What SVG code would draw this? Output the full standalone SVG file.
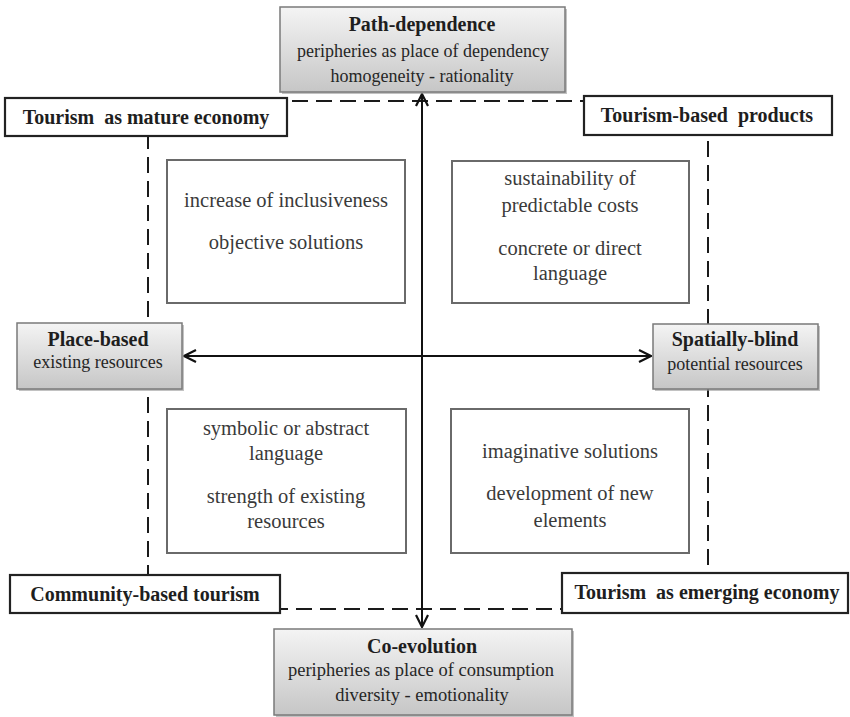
<svg xmlns="http://www.w3.org/2000/svg" width="850" height="717" viewBox="0 0 850 717">
<defs>
<linearGradient id="g" x1="0" y1="0" x2="0" y2="1">
<stop offset="0" stop-color="#f4f4f4"/>
<stop offset="1" stop-color="#c6c6c6"/>
</linearGradient>
<marker id="ah" viewBox="0 0 14 14" refX="13" refY="7" markerWidth="14" markerHeight="14" markerUnits="userSpaceOnUse" orient="auto-start-reverse">
<path d="M1,1 L13,7 L1,13" fill="none" stroke="#111" stroke-width="2.2"/>
</marker>
</defs>
<style>
text{fill:#262626;text-anchor:middle}
.b{font-weight:bold;font-size:20px;fill:#1e1e1e}
.t{font-size:18px}
.t2{font-size:18.5px}
.gray{fill:url(#g);stroke:#7a7a7a;stroke-width:1.5}
.sh{fill:#9a9a9a;opacity:0.6}
.wb{fill:#fff;stroke:#222;stroke-width:2.2}
.in{fill:#fff;stroke:#6a6a6a;stroke-width:2}
.it{font-size:20.5px;fill:#3a3a3a}
</style>
<g font-family="'Liberation Serif', 'DejaVu Serif', serif">
<g id="connectors">
<rect x="148" y="101" width="560" height="508" fill="none" stroke="#1a1a1a" stroke-width="2" stroke-dasharray="16 8"/>
<line x1="422" y1="94" x2="422" y2="627" stroke="#111" stroke-width="2" marker-start="url(#ah)" marker-end="url(#ah)"/>
<line x1="184" y1="356" x2="651" y2="356" stroke="#111" stroke-width="2" marker-start="url(#ah)" marker-end="url(#ah)"/>
</g>
<g id="tl">
<rect class="in" x="167" y="160" width="238" height="143"/>
<text class="it" x="286" y="207">increase of inclusiveness</text>
<text class="it" x="286" y="249">objective solutions</text>
</g>
<g id="tr">
<rect class="in" x="452" y="161" width="237" height="142"/>
<text class="it" x="570" y="185">sustainability of</text>
<text class="it" x="570" y="212">predictable costs</text>
<text class="it" x="570" y="255">concrete or direct</text>
<text class="it" x="570" y="280">language</text>
</g>
<g id="bl">
<rect class="in" x="167" y="409" width="239" height="144"/>
<text class="it" x="286" y="435">symbolic or abstract</text>
<text class="it" x="286" y="460">language</text>
<text class="it" x="286" y="503">strength of existing</text>
<text class="it" x="286" y="528">resources</text>
</g>
<g id="br">
<rect class="in" x="451" y="409" width="238" height="144"/>
<text class="it" x="570" y="458">imaginative solutions</text>
<text class="it" x="570" y="500">development of new</text>
<text class="it" x="570" y="527">elements</text>
</g>
<g id="path-dependence">
<rect class="sh" x="282" y="9" width="285" height="85"/>
<rect class="gray" x="280" y="7" width="285" height="85"/>
<text class="b" x="422" y="31">Path-dependence</text>
<text class="t" x="423" y="57">peripheries as place of dependency</text>
<text class="t" x="422" y="82">homogeneity - rationality</text>
</g>
<g id="co-evolution">
<rect class="sh" x="276" y="631" width="298" height="86"/>
<rect class="gray" x="274" y="629" width="298" height="86"/>
<text class="b" x="422" y="653">Co-evolution</text>
<text class="t2" x="421" y="676">peripheries as place of consumption</text>
<text class="t2" x="422" y="701">diversity - emotionality</text>
</g>
<g id="place-based">
<rect class="sh" x="19" y="325" width="165" height="66"/>
<rect class="gray" x="17" y="323" width="165" height="66"/>
<text class="b" x="98" y="346">Place-based</text>
<text class="t" x="98" y="368">existing resources</text>
</g>
<g id="spatially-blind">
<rect class="sh" x="655" y="326" width="165" height="65"/>
<rect class="gray" x="653" y="324" width="165" height="65"/>
<text class="b" x="735" y="346">Spatially-blind</text>
<text class="t" x="735" y="370">potential resources</text>
</g>
<g id="mature">
<rect class="wb" x="5" y="98" width="282" height="38"/>
<text class="b" x="146" y="124" xml:space="preserve">Tourism  as mature economy</text>
</g>
<g id="products">
<rect class="wb" x="584" y="96" width="248" height="39"/>
<text class="b" x="707" y="122" xml:space="preserve">Tourism-based  products</text>
</g>
<g id="community">
<rect class="wb" x="10" y="575" width="270" height="38"/>
<text class="b" x="145" y="601">Community-based tourism</text>
</g>
<g id="emerging">
<rect class="wb" x="562" y="573" width="286" height="40"/>
<text class="b" x="707" y="599" xml:space="preserve">Tourism  as emerging economy</text>
</g>
</g>
</svg>
